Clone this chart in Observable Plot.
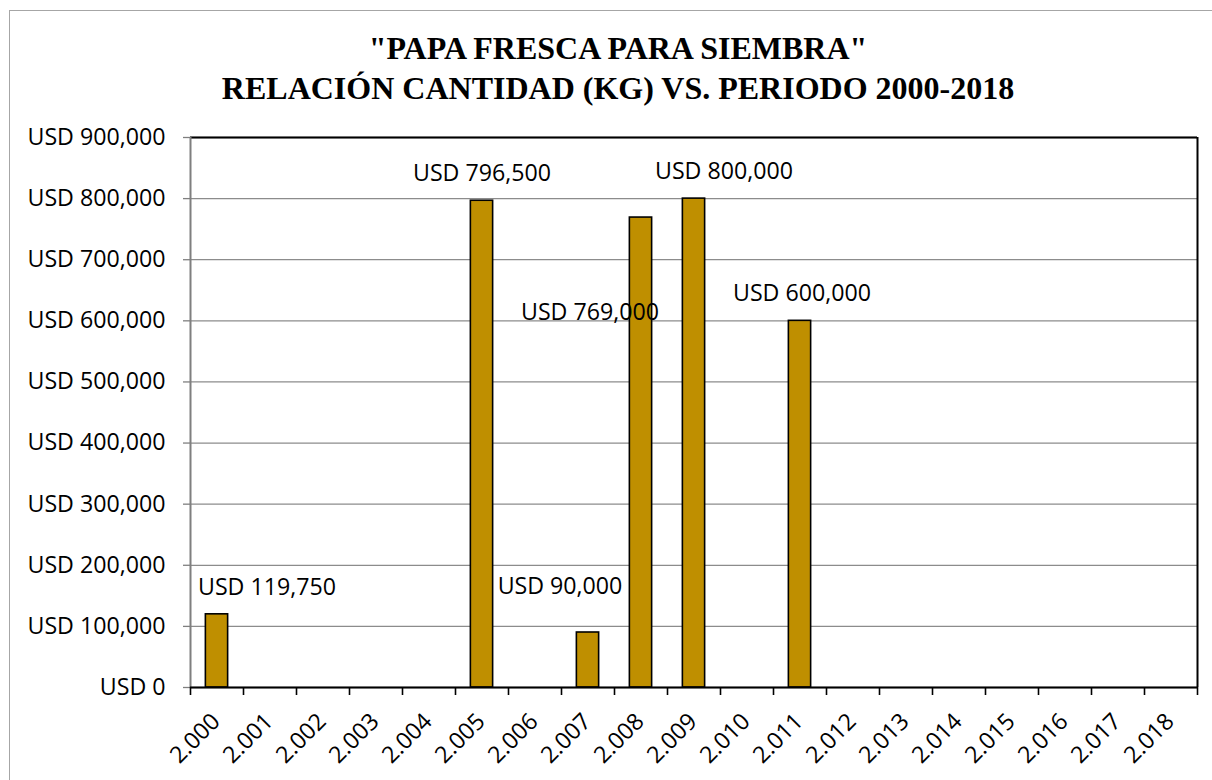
<!DOCTYPE html>
<html>
<head>
<meta charset="utf-8">
<script src="https://cdn.jsdelivr.net/npm/d3@7"></script>
<script src="https://cdn.jsdelivr.net/npm/@observablehq/plot@0.6"></script>
<style>
  html, body { margin: 0; padding: 0; background: #fff; overflow: hidden; }
  #wrap { position: relative; width: 1212px; height: 780px; }
  #border { position: absolute; left: 9px; top: 10px; width: 1300px; height: 900px; border: 1px solid #a6a6a6; }
  #title { position: absolute; left: 0; top: 28px; width: 1236px; text-align: center;
           font-family: "Liberation Serif", "Times New Roman", serif; font-weight: bold;
           font-size: 32px; line-height: 40px; color: #000; }
  #chart { position: absolute; left: 0; top: 0; }
</style>
</head>
<body>
<div id="wrap">
  <div id="border"></div>
  <div id="chart"></div>
  <div id="title">"PAPA FRESCA PARA SIEMBRA"<br>RELACIÓN CANTIDAD (KG) VS. PERIODO 2000-2018</div>
</div>
<script>
// ---- data ----
const years = ["2.000","2.001","2.002","2.003","2.004","2.005","2.006","2.007","2.008","2.009",
               "2.010","2.011","2.012","2.013","2.014","2.015","2.016","2.017","2.018"];
const barYears  = ["2.000","2.005","2.007","2.008","2.009","2.011"];
const barValues = [119750, 796500, 90000, 769000, 800000, 600000];
const yTicks = [0,100000,200000,300000,400000,500000,600000,700000,800000,900000];

// ---- layout (label offsets in pixels, per bar) ----
const labelDx = {"2.000": 50, "2.005": 0, "2.007": -28, "2.008": -51, "2.009": 30, "2.011": 2};
const labelDy = {"2.000": -27, "2.005": -27, "2.007": -46, "2.008": 95, "2.009": -27, "2.011": -27};

const fmt = v => "USD " + d3.format(",")(v);
const bars = barYears.map((y, i) => ({year: y, idx: years.indexOf(y), value: barValues[i]}));
const cats = years.map((y, i) => ({year: y, idx: i}));
const font = "'Open Sans', sans-serif";
const fs = 23.2;

const plot = Plot.plot({
  width: 1212,
  height: 780,
  marginLeft: 190,
  marginRight: 15,
  marginTop: 137,
  marginBottom: 93,
  style: {fontFamily: font, fontSize: fs + "px", background: "transparent", color: "#000"},
  x: {type: "linear", domain: [0, years.length], axis: null},
  y: {domain: [0, 900000], axis: null},
  marks: [
    Plot.gridY(yTicks, {stroke: "#8c8c8c", strokeOpacity: 1, strokeWidth: 1.3}),
    Plot.rectY(bars, {x1: d => d.idx + 0.29, x2: d => d.idx + 0.71, y: "value",
                      fill: "#BF8F00", stroke: "#000", strokeWidth: 1.6}),
    // frame: top, right, bottom black; left gray
    Plot.ruleY([900000], {stroke: "#000", strokeWidth: 2}),
    Plot.ruleX([years.length], {stroke: "#000", strokeWidth: 2}),
    Plot.ruleX([0], {stroke: "#7f7f7f", strokeWidth: 2}),
    Plot.ruleY([0], {stroke: "#000", strokeWidth: 2}),
    // y ticks and labels
    Plot.ruleY(yTicks, {x1: 0, x2: 0, stroke: "#7f7f7f", strokeWidth: 1.3, render: (i, s, v, d, ctx, next) => {
      const g = next(i, s, v, d, ctx);
      d3.select(g).selectAll("line").attr("x1", 183).attr("x2", 190);
      return g;
    }}),
    Plot.text(yTicks, {x: 0, y: d => d, text: fmt, textAnchor: "end", dx: -25, fontSize: fs}),
    // x ticks at category boundaries
    Plot.ruleX(d3.range(years.length + 1), {y1: 0, y2: 0, stroke: "#000", strokeWidth: 1.6,
      render: (i, s, v, d, ctx, next) => {
        const g = next(i, s, v, d, ctx);
        d3.select(g).selectAll("line").attr("y1", 687).attr("y2", 695);
        return g;
      }}),
    // x labels
    Plot.text(cats, {x: d => d.idx + 0.5, y: 0, text: "year", rotate: -45, textAnchor: "end",
                     dx: -1, dy: 30, fontSize: fs}),
    // value labels
    Plot.text(bars, {x: d => d.idx + 0.5, y: "value", text: d => fmt(d.value), fontSize: fs,
                     render: (i, s, v, dims, ctx, next) => {
                       const g = next(i, s, v, dims, ctx);
                       d3.select(g).selectAll("text").each(function(_, k) {
                         const b = bars[i[k]];
                         const t = d3.select(this);
                         const tr = t.attr("transform") || "";
                         t.attr("transform", tr + ` translate(${labelDx[b.year]},${labelDy[b.year]})`);
                       });
                       return g;
                     }})
  ]
});
document.getElementById("chart").appendChild(plot);
</script>
</body>
</html>
